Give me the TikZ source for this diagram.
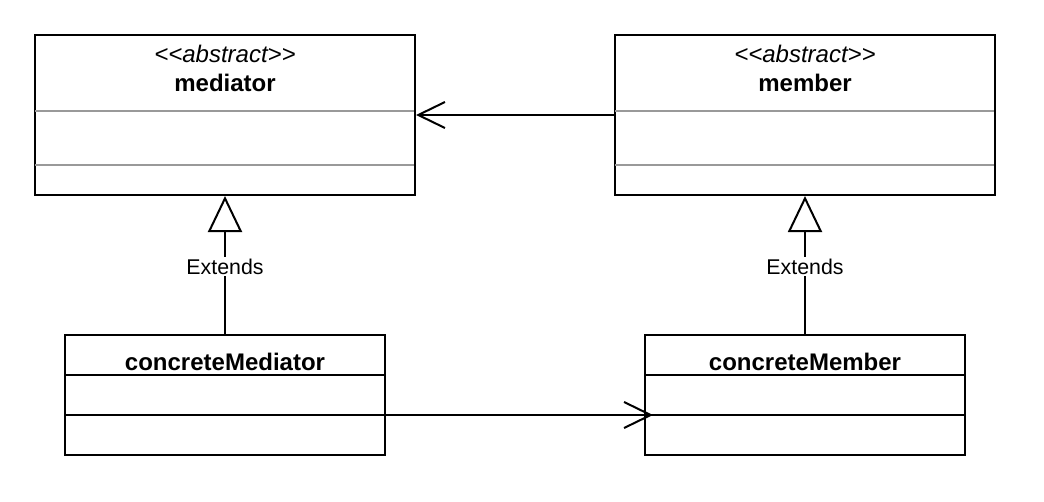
\documentclass[tikz,border=0pt]{standalone}
\usepackage{fontspec}
\setmainfont{Liberation Sans}
\newfontfamily\stereofont{Liberation Sans}
\usetikzlibrary{arrows.meta}
\begin{document}
\begin{tikzpicture}[x=0.75pt,y=-0.75pt,
  umlbox/.style={draw=black, line width=1.5pt, rectangle, inner sep=0pt},
  bigbox/.style={umlbox, minimum width=285pt, minimum height=120pt},
  smallbox/.style={umlbox, minimum width=240pt, minimum height=90pt},
  graysep/.style={draw=black!40, line width=1.5pt},
  blacksep/.style={draw=black, line width=1.5pt},
  stereo/.style={anchor=base, inner sep=0pt, font=\fontsize{18pt}{21pt}\stereofont\itshape},
  title/.style={anchor=base, inner sep=0pt, font=\fontsize{18pt}{21pt}\selectfont\bfseries},
  edgelabel/.style={fill=white, inner sep=1pt, font=\fontsize{16pt}{19pt}\selectfont},
  assoc/.style={draw=black, line width=1.5pt, -{Straight Barb[length=20pt,width=19.5pt,line width=1.5pt]}},
  extends/.style={draw=black, line width=1.5pt, -{Triangle[open,length=27pt,width=25.5pt,line width=1.5pt,fill=white]}}
]
\useasboundingbox (0,0) rectangle (1044,502);

% boxes
\node[bigbox] (mediator) at (225,115) {};
\node[bigbox] (member) at (805,115) {};
\node[smallbox] (cmediator) at (225,395) {};
\node[smallbox] (cmember) at (805,395) {};

% compartments
\draw[graysep] (35,111) -- (414,111);
\draw[graysep] (35,165) -- (414,165);
\draw[graysep] (615,111) -- (994,111);
\draw[graysep] (615,165) -- (994,165);
\draw[blacksep] (65,375) -- (385,375);
\draw[blacksep] (65,415) -- (385,415);
\draw[blacksep] (645,375) -- (965,375);
\draw[blacksep] (645,415) -- (965,415);

% titles
\node[stereo] (medstereo) at (225,63) {<\kern0pt<abstract>\kern0pt>};
\node[title] (medtitle) at (225,92) {mediator};
\node[stereo] (memstereo) at (805,63) {<\kern0pt<abstract>\kern0pt>};
\node[title] (memtitle) at (805,92) {member};
\node[title] (cmedtitle) at (225,370) {concreteMediator};
\node[title] (cmemtitle) at (805,370) {concreteMember};

% connectors
\draw[assoc] (member.west |- 0,115) -- (mediator.east |- 0,115);
\coordinate (cmemtip) at (653,415);
\draw[assoc] (385,415) -- (cmemtip);

\draw[extends] (cmediator.north) -- node[edgelabel, pos=0.49] (ext1) {Extends} (mediator.south);
\draw[extends] (cmember.north) -- node[edgelabel, pos=0.49] (ext2) {Extends} (member.south);
\end{tikzpicture}
\end{document}
